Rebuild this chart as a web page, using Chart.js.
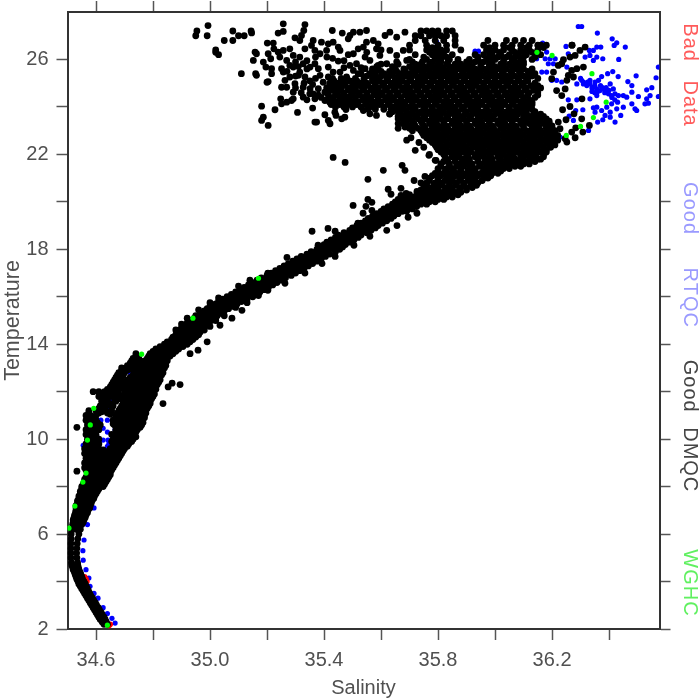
<!DOCTYPE html>
<html><head><meta charset="utf-8">
<script src="https://cdn.jsdelivr.net/npm/chart.js@4"></script>
<style>html,body{margin:0;padding:0;background:#fff}canvas{display:block}</style>
</head><body><canvas id="c" width="700" height="700"></canvas>
<script>
const xTicks=[34.6,34.8,35.0,35.2,35.4,35.6,35.8,36.0,36.2,36.4];
const xLabelled=[34.6,35.0,35.4,35.8,36.2];
const yTicks=[2,4,6,8,10,12,14,16,18,20,22,24,26];
const yLabelled=[2,6,10,14,18,22,26];
const xLimits=[34.5,36.577];
const yLimits=[2,28];
const xTitle="Salinity";
const yTitle="Temperature";
const sideLabels=["Bad Data","Good RTQC","Good DMQC","WGHC"];
// each row: temperature, then the salinities read at that temperature
const deepRows=[
[2.2,34.628,34.64],[2.3,34.622,34.636],[2.4,34.615,34.632],[2.5,34.61,34.628],[2.6,34.605,34.622],[2.7,34.6,34.618],[2.8,34.595,34.612],[2.9,34.59,34.608],[3,34.585,34.602],[3.1,34.58,34.598],[3.2,34.575,34.592],[3.3,34.57,34.588],[3.4,34.565,34.582],[3.5,34.56,34.578],[3.6,34.555,34.574],[3.7,34.55,34.57],[3.8,34.545,34.566],[3.9,34.54,34.562],[4,34.537,34.558],[4.1,34.533,34.553],[4.2,34.53,34.55],[4.3,34.527,34.547],[4.4,34.524,34.544],[4.5,34.52,34.54],[4.6,34.518,34.538],[4.7,34.515,34.536],[4.8,34.514,34.535],[5,34.512,34.533],[5.2,34.512,34.532],[5.4,34.512,34.533],[5.6,34.512,34.534],[5.8,34.513,34.536],[6,34.513,34.54],[6.2,34.515,34.53,34.545],[6.4,34.518,34.535,34.55],[6.5,34.52,34.54,34.555],[6.6,34.52,34.54,34.558],[6.7,34.523,34.542,34.562],[6.8,34.525,34.545,34.565],[6.9,34.528,34.55,34.57]];
const bendRows=[
[7,34.53,34.545,34.56,34.572],[7.1,34.53,34.55,34.565,34.578],[7.2,34.53,34.55,34.565,34.58],[7.3,34.535,34.55,34.57,34.583],[7.4,34.535,34.555,34.575,34.586],[7.5,34.54,34.558,34.578,34.592],[7.6,34.54,34.56,34.58,34.595],[7.7,34.545,34.562,34.582,34.6],[7.8,34.545,34.565,34.585,34.605],[7.9,34.55,34.568,34.59,34.61],[8,34.55,34.57,34.59,34.61,34.625],[8.1,34.555,34.575,34.595,34.615,34.63],[8.2,34.56,34.58,34.6,34.62,34.635],[8.3,34.56,34.58,34.6,34.62,34.64],[8.4,34.565,34.585,34.605,34.625,34.645],[8.5,34.57,34.59,34.61,34.63,34.65],[8.6,34.57,34.59,34.61,34.63,34.65],[8.7,34.565,34.585,34.605,34.625,34.645,34.655],[8.8,34.56,34.58,34.6,34.62,34.64,34.66],[8.9,34.565,34.59,34.61,34.63,34.65,34.665],[9,34.56,34.58,34.6,34.62,34.64,34.66,34.67],[9.1,34.57,34.59,34.615,34.635,34.655,34.675],[9.2,34.565,34.585,34.605,34.625,34.645,34.665,34.68],[9.3,34.57,34.59,34.61,34.63,34.655,34.675,34.685],[9.4,34.56,34.58,34.6,34.62,34.64,34.66,34.68,34.69],[9.5,34.57,34.595,34.615,34.655,34.675,34.695],[9.6,34.56,34.59,34.61,34.65,34.67,34.69,34.7],[9.7,34.57,34.6,34.66,34.68,34.7,34.71],[9.8,34.565,34.585,34.61,34.66,34.68,34.7,34.715],[9.9,34.575,34.6,34.67,34.69,34.71,34.725],[10,34.57,34.59,34.61,34.66,34.68,34.7,34.72,34.73],[10.1,34.58,34.6,34.665,34.685,34.705,34.725,34.74],[10.2,34.565,34.585,34.6,34.655,34.675,34.695,34.715,34.735],[10.3,34.575,34.595,34.68,34.7,34.72,34.74],[10.4,34.565,34.585,34.61,34.67,34.69,34.71,34.73,34.745],[10.5,34.575,34.6,34.675,34.695,34.715,34.735,34.755],[10.6,34.57,34.595,34.615,34.665,34.685,34.705,34.725,34.745,34.76],[10.7,34.58,34.605,34.67,34.69,34.71,34.73,34.75,34.765],[10.8,34.565,34.585,34.6,34.66,34.68,34.7,34.72,34.74,34.76],[10.9,34.575,34.595,34.675,34.695,34.715,34.735,34.755,34.77],[11,34.565,34.58,34.6,34.67,34.69,34.71,34.73,34.75,34.77],[11.1,34.575,34.61,34.675,34.695,34.715,34.735,34.755,34.775],[11.2,34.575,34.6,34.62,34.68,34.7,34.72,34.74,34.76,34.775],[11.3,34.61,34.63,34.685,34.705,34.725,34.745,34.765,34.78],[11.4,34.615,34.635,34.66,34.69,34.71,34.73,34.75,34.77,34.785],[11.5,34.625,34.65,34.7,34.72,34.74,34.76,34.78,34.79],[11.6,34.62,34.64,34.67,34.695,34.715,34.735,34.755,34.775,34.79],[11.7,34.62,34.64,34.665,34.68,34.7,34.72,34.74,34.76,34.78,34.795],[11.8,34.61,34.63,34.65,34.67,34.69,34.71,34.73,34.75,34.77,34.79,34.8],[11.9,34.62,34.64,34.66,34.68,34.71,34.73,34.75,34.77,34.79,34.805],[12,34.61,34.63,34.65,34.67,34.7,34.72,34.74,34.76,34.78,34.8],[12.1,34.64,34.66,34.68,34.7,34.72,34.74,34.76,34.78,34.8,34.81],[12.2,34.65,34.67,34.69,34.71,34.73,34.75,34.77,34.79,34.81],[12.3,34.655,34.675,34.695,34.715,34.735,34.755,34.775,34.795,34.815],[12.4,34.66,34.68,34.7,34.72,34.74,34.76,34.78,34.8,34.82],[12.5,34.665,34.685,34.71,34.73,34.75,34.77,34.79,34.81,34.825],[12.6,34.67,34.69,34.72,34.74,34.76,34.78,34.8,34.82],[12.7,34.675,34.695,34.73,34.75,34.77,34.79,34.81,34.83],[12.8,34.68,34.7,34.74,34.76,34.78,34.8,34.82,34.835],[12.9,34.69,34.71,34.73,34.75,34.77,34.79,34.81,34.83],[13,34.69,34.71,34.73,34.75,34.77,34.79,34.81,34.83,34.84],[13.1,34.71,34.73,34.75,34.77,34.79,34.81,34.83,34.845],[13.2,34.72,34.74,34.76,34.78,34.8,34.82,34.84],[13.3,34.725,34.745,34.77,34.79,34.81,34.83,34.85],[13.4,34.73,34.75,34.78,34.8,34.82,34.84,34.85],[13.5,34.74,34.785,34.805,34.825,34.845,34.86],[13.6,34.74,34.79,34.81,34.83,34.85,34.87],[13.7,34.8,34.82,34.84,34.86,34.88]];
const bandRows=[
[13.8,34.81,34.83,34.85,34.87,34.89],[13.9,34.825,34.845,34.865,34.885,34.905],[14,34.84,34.86,34.88,34.9,34.92],[14.1,34.85,34.87,34.89,34.91,34.93],[14.2,34.865,34.885,34.905,34.925,34.94],[14.3,34.87,34.89,34.91,34.93,34.95],[14.4,34.88,34.9,34.92,34.94,34.955],[14.5,34.885,34.905,34.925,34.945,34.965],[14.6,34.895,34.915,34.935,34.955,34.97],[14.7,34.9,34.92,34.94,34.96,34.98],[14.8,34.91,34.93,34.95,34.97,34.985],[14.9,34.92,34.94,34.96,34.98,34.995],[15,34.93,34.95,34.97,34.99,35.005],[15.1,34.945,34.965,34.985,35.005,35.02],[15.2,34.95,34.97,34.99,35.01,35.025],[15.3,34.965,34.985,35.005,35.025,35.04],[15.4,34.98,35,35.02,35.04,35.05],[15.5,34.99,35.01,35.03,35.05,35.065],[15.6,35,35.02,35.04,35.06,35.08],[15.7,35.02,35.04,35.06,35.08,35.095],[15.8,35.03,35.05,35.07,35.09,35.11],[15.9,35.045,35.065,35.085,35.105,35.13],[16,35.06,35.08,35.1,35.12,35.15],[16.1,35.075,35.095,35.115,35.135,35.16],[16.2,35.09,35.11,35.13,35.15,35.175],[16.3,35.105,35.125,35.145,35.165,35.19],[16.4,35.12,35.14,35.16,35.18,35.205],[16.5,35.135,35.155,35.175,35.195,35.22],[16.6,35.15,35.17,35.19,35.21,35.235],[16.7,35.165,35.185,35.205,35.225,35.25],[16.8,35.18,35.2,35.22,35.24,35.265],[16.9,35.2,35.22,35.24,35.26,35.285],[17,35.215,35.235,35.255,35.275,35.3],[17.1,35.23,35.25,35.27,35.29,35.315],[17.2,35.245,35.265,35.285,35.305,35.33],[17.3,35.26,35.28,35.3,35.32,35.345],[17.4,35.275,35.295,35.315,35.335,35.36],[17.5,35.29,35.31,35.33,35.35,35.375],[17.6,35.305,35.325,35.345,35.365,35.39],[17.7,35.32,35.34,35.36,35.38,35.405],[17.8,35.34,35.36,35.38,35.4,35.42],[17.9,35.355,35.375,35.395,35.415,35.44],[18,35.375,35.395,35.415,35.435,35.455],[18.1,35.385,35.405,35.425,35.445,35.465],[18.2,35.4,35.42,35.44,35.46,35.475],[18.3,35.41,35.43,35.45,35.47,35.49],[18.4,35.425,35.445,35.465,35.485,35.505],[18.5,35.44,35.46,35.48,35.5,35.52],[18.6,35.45,35.47,35.49,35.51,35.53],[18.7,35.47,35.49,35.51,35.53,35.55],[18.8,35.49,35.51,35.53,35.55,35.565],[18.9,35.5,35.52,35.54,35.56,35.58],[19,35.515,35.535,35.555,35.575,35.59],[19.1,35.53,35.55,35.57,35.59,35.605],[19.2,35.545,35.565,35.585,35.605,35.62],[19.3,35.555,35.575,35.595,35.615,35.635],[19.4,35.57,35.59,35.61,35.63,35.645],[19.5,35.585,35.605,35.625,35.645,35.66],[19.6,35.6,35.62,35.64,35.66,35.675,35.69],[19.7,35.61,35.63,35.65,35.67,35.69,35.71],[19.8,35.625,35.645,35.665,35.685,35.705,35.725],[19.9,35.64,35.66,35.68,35.7,35.72,35.74,35.76],[20,35.65,35.67,35.69,35.71,35.73,35.75,35.77,35.79],[20.1,35.66,35.68,35.7,35.72,35.74,35.76,35.78,35.8,35.82]];
const shoulderRows=[
[20.2,35.68,35.71,35.74,35.76,35.79,35.81,35.83,35.85],[20.3,35.7,35.725,35.75,35.775,35.8,35.825,35.85,35.87],[20.4,35.73,35.76,35.79,35.81,35.84,35.86,35.88],[20.5,35.74,35.77,35.8,35.825,35.85,35.875,35.9],[20.6,35.75,35.78,35.8,35.83,35.85,35.88,35.9,35.92],[20.7,35.76,35.785,35.815,35.84,35.865,35.89,35.915,35.935],[20.8,35.76,35.79,35.81,35.84,35.86,35.89,35.92,35.94],[20.9,35.77,35.8,35.825,35.85,35.875,35.905,35.93,35.955],[21,35.77,35.8,35.83,35.85,35.88,35.91,35.93,35.96,35.975],[21.1,35.78,35.81,35.84,35.86,35.89,35.915,35.94,35.965,35.985],[21.2,35.79,35.82,35.84,35.87,35.9,35.92,35.95,35.97,35.99,36.01],[21.3,35.8,35.825,35.855,35.88,35.905,35.93,35.96,35.98,36,36.02],[21.4,35.8,35.83,35.85,35.88,35.91,35.93,35.96,35.99,36.01,36.03,36.05],[21.5,35.81,35.84,35.865,35.89,35.915,35.945,35.97,35.995,36.02,36.045,36.07,36.09],[21.6,35.81,35.84,35.87,35.9,35.92,35.95,35.98,36,36.03,36.06,36.08,36.1,36.12],[21.7,35.82,35.835,35.86,35.885,35.91,35.94,35.965,35.99,36.015,36.04,36.07,36.09,36.115,36.14],[21.8,35.83,35.86,35.89,35.91,35.94,35.97,35.99,36.02,36.05,36.07,36.1,36.13,36.15,36.16],[21.9,35.825,35.85,35.875,35.905,35.93,35.96,35.985,36.01,36.04,36.065,36.09,36.12,36.145,36.17],[22,35.82,35.85,35.87,35.9,35.93,35.95,35.98,36.01,36.03,36.06,36.09,36.11,36.14,36.17],[22.1,35.81,35.84,35.865,35.89,35.915,35.945,35.97,36,36.025,36.05,36.08,36.105,36.13,36.16,36.18],[22.2,35.8,35.83,35.86,35.88,35.91,35.94,35.96,35.99,36.02,36.04,36.07,36.1,36.12,36.15,36.18],[22.3,35.795,35.82,35.85,35.875,35.9,35.93,35.955,35.98,36.01,36.035,36.06,36.09,36.115,36.14,36.17,36.195],[22.4,35.79,35.81,35.84,35.87,35.89,35.92,35.95,35.97,36,36.03,36.05,36.08,36.11,36.13,36.16,36.19,36.21],[22.5,35.78,35.805,35.83,35.86,35.885,35.91,35.94,35.965,35.99,36.02,36.045,36.07,36.1,36.125,36.15,36.18,36.205],[22.6,35.77,35.8,35.82,35.85,35.88,35.9,35.93,35.96,35.98,36.01,36.04,36.06,36.09,36.12,36.14,36.17,36.2,36.22],[22.7,35.76,35.79,35.815,35.84,35.87,35.895,35.92,35.95,35.975,36,36.03,36.055,36.08,36.11,36.135,36.16,36.19,36.215],[22.8,35.75,35.78,35.81,35.83,35.86,35.89,35.91,35.94,35.97,35.99,36.02,36.05,36.07,36.1,36.13,36.15,36.18,36.2,36.22],[22.9,35.745,35.77,35.8,35.825,35.85,35.88,35.905,35.93,35.96,35.985,36.01,36.04,36.065,36.09,36.12,36.145,36.17,36.2],[23,35.71,35.74,35.76,35.79,35.82,35.84,35.87,35.9,35.92,35.95,35.98,36,36.03,36.06,36.08,36.11,36.14,36.16,36.19,36.21],[23.1,35.7,35.73,35.755,35.78,35.81,35.835,35.86,35.89,35.915,35.94,35.97,35.995,36.02,36.05,36.075,36.1,36.13,36.155,36.18,36.2],[23.2,35.7,35.72,35.75,35.78,35.8,35.83,35.86,35.88,35.91,35.94,35.96,35.99,36.02,36.04,36.07,36.1,36.13,36.15,36.18,36.2],[23.3,35.69,35.715,35.745,35.77,35.795,35.82,35.85,35.875,35.9,35.93,35.955,35.98,36.01,36.035,36.06,36.09,36.12,36.145,36.17,36.19]];
const cloudRows=[
[23.4,35.68,35.71,35.74,35.77,35.79,35.82,35.85,35.87,35.9,35.93,35.95,35.98,36.01,36.03,36.06,36.09,36.11,36.14,36.16,36.19],
[23.5,35.68,35.7,35.73,35.755,35.78,35.81,35.835,35.86,35.89,35.915,35.94,35.97,35.995,36.02,36.05,36.075,36.1,36.13,36.155,36.18],
[23.6,35.66,35.69,35.72,35.75,35.78,35.8,35.83,35.86,35.88,35.91,35.94,35.96,35.99,36.02,36.04,36.07,36.1,36.12,36.15,36.17],
[23.7,35.63,35.67,35.705,35.73,35.76,35.785,35.81,35.84,35.87,35.895,35.92,35.95,35.975,36,36.03,36.055,36.08,36.11,36.135,36.16],
[23.8,35.64,35.66,35.69,35.71,35.74,35.77,35.79,35.82,35.85,35.87,35.9,35.93,35.96,35.98,36.01,36.04,36.06,36.09,36.11,36.14],
[23.9,35.555,35.58,35.61,35.635,35.655,35.68,35.72,35.755,35.78,35.805,35.84,35.86,35.885,35.915,35.94,35.97,35.995,36.02,36.05,36.075,36.1,36.13],
[24,35.44,35.47,35.5,35.53,35.56,35.58,35.61,35.64,35.67,35.7,35.72,35.75,35.78,35.81,35.83,35.86,35.89,35.92,35.94,35.97,36,36.02,36.05,36.08,36.1,36.12],
[24.1,35.425,35.455,35.485,35.515,35.545,35.57,35.595,35.625,35.655,35.685,35.71,35.735,35.765,35.795,35.82,35.845,35.875,35.905,35.93,35.955,35.985,36.01,36.035,36.065,36.09,36.115,36.13],
[24.2,35.42,35.44,35.47,35.5,35.52,35.55,35.58,35.6,35.63,35.66,35.68,35.71,35.74,35.76,35.79,35.82,35.84,35.87,35.9,35.92,35.95,35.98,36,36.03,36.06,36.09,36.11,36.13],
[24.3,35.41,35.43,35.455,35.49,35.51,35.535,35.565,35.59,35.615,35.645,35.67,35.695,35.725,35.75,35.775,35.805,35.83,35.855,35.885,35.91,35.935,35.965,35.99,36.015,36.045,36.075,36.1,36.12],
[24.4,35.43,35.46,35.48,35.51,35.54,35.56,35.59,35.62,35.64,35.67,35.7,35.72,35.75,35.78,35.8,35.83,35.86,35.89,35.91,35.94,35.97,35.99,36.02,36.05,36.07,36.1,36.14],
[24.5,35.415,35.445,35.47,35.495,35.525,35.55,35.575,35.605,35.63,35.655,35.685,35.71,35.735,35.765,35.79,35.815,35.845,35.875,35.9,35.925,35.955,35.98,36.005,36.035,36.06,36.085,36.115,36.15],
[24.6,35.41,35.44,35.47,35.5,35.52,35.55,35.58,35.6,35.63,35.66,35.69,35.71,35.74,35.77,35.8,35.82,35.85,35.88,35.9,35.93,35.96,35.98,36.01,36.04,36.07,36.09,36.12,36.15],
[24.7,35.425,35.455,35.485,35.51,35.535,35.565,35.59,35.615,35.645,35.675,35.7,35.725,35.755,35.785,35.81,35.835,35.865,35.89,35.915,35.945,35.97,35.995,36.025,36.055,36.08,36.105,36.135],
[24.8,35.41,35.44,35.46,35.49,35.51,35.54,35.57,35.59,35.62,35.65,35.68,35.7,35.73,35.76,35.79,35.81,35.84,35.87,35.89,35.92,35.95,35.97,36,36.03,36.06,36.08,36.11,36.14,36.16],
[24.9,35.43,35.45,35.475,35.505,35.525,35.555,35.58,35.605,35.635,35.665,35.69,35.715,35.745,35.775,35.8,35.825,35.855,35.88,35.905,35.935,35.96,35.985,36.015,36.045,36.07,36.095,36.125,36.15],
[25,35.42,35.45,35.47,35.5,35.53,35.55,35.58,35.61,35.64,35.66,35.69,35.72,35.74,35.77,35.8,35.82,35.85,35.88,35.91,35.93,35.96,35.99,36.01,36.04,36.07,36.1,36.14],
[25.1,35.435,35.46,35.49,35.515,35.54,35.57,35.595,35.625,35.65,35.675,35.705,35.73,35.755,35.785,35.81,35.835,35.865,35.895,35.92,35.945,35.975,36,36.025,36.055,36.085,36.115],
[25.2,35.43,35.46,35.48,35.51,35.54,35.57,35.59,35.62,35.65,35.67,35.7,35.73,35.75,35.78,35.81,35.84,35.86,35.89,35.92,35.94,35.97,36,36.03,36.05,36.08,36.11,36.15],
[25.3,35.55,35.575,35.6,35.63,35.66,35.685,35.71,35.74,35.765,35.795,35.825,35.85,35.875,35.905,35.93,35.96,35.985,36.015,36.04,36.07,36.1,36.13],
[25.4,35.53,35.56,35.58,35.61,35.64,35.67,35.7,35.72,35.75,35.78,35.81,35.84,35.86,35.89,35.92,35.95,35.98,36,36.03,36.06,36.09,36.12,36.14],
[25.5,35.57,35.6,35.63,35.655,35.685,35.715,35.74,35.77,35.8,35.83,35.855,35.885,35.91,35.94,35.97,35.995,36.025,36.055,36.085,36.115],
[25.6,35.57,35.59,35.65,35.68,35.71,35.73,35.76,35.79,35.82,35.85,35.87,35.9,35.93,35.96,35.99,36.01,36.04,36.07,36.1,36.13],
[25.7,35.585,35.64,35.7,35.725,35.75,35.78,35.81,35.84,35.865,35.89,35.92,35.95,35.98,36,36.03,36.06,36.09],
[25.8,35.6,35.66,35.72,35.74,35.77,35.8,35.83,35.86,35.88,35.91,35.95,35.98,36.02,36.05,36.08,36.1],
[25.9,35.655,35.71,35.745,35.78,35.81,35.835,35.87,35.9,35.93,35.96,35.99,36.03,36.07,36.1],
[26,35.7,35.76,35.79,35.81,35.84,35.87,35.91,35.94,35.97,36,36.03,36.06,36.09,36.13],
[26.1,35.75,35.8,35.83,35.94,35.98,36.01,36.04,36.07,36.1,36.14],
[26.2,35.72,35.78,35.8,35.82,35.85,35.93,35.96,35.99,36.02,36.05,36.08,36.11,36.16],
[26.3,35.77,35.815,35.98,36.015,36.07,36.1,36.13],
[26.4,35.7,35.76,35.79,35.81,35.83,35.88,35.97,36,36.03,36.06,36.09,36.12,36.15],
[26.5,35.78,35.98,36.05,36.11,36.17],
[26.6,35.7,35.76,35.8,35.83,35.86,35.96,36,36.03,36.06,36.09,36.12,36.15,36.18,36.27],
[26.8,35.72,35.755,35.79,35.82,35.86,35.975,36.04,36.07,36.1,36.13],
[27,35.72,35.74,35.77,35.79,35.81,35.83,35.86],
[27.2,35.74,35.76,35.78,35.8,35.83,35.85]];
// [salinity, temperature]
const clumpPoints=[[35.146,27.12],[35.257,27.5],[35.239,27.11],[35.257,27.18],[35.333,27.47],[35.329,27.22],[35.321,27.01],[35.298,26.91],[35.315,26.8],[35.429,27.22],[35.464,27.11],[35.485,26.87],[35.503,27.15],[35.526,27.15],[35.549,27.22],[35.491,27.01],[35.201,26.69],[35.222,26.69],[35.224,26.45],[35.239,26.31],[35.257,26.38],[35.28,26.45],[35.333,26.45],[35.356,26.59],[35.362,26.8],[35.391,26.73],[35.415,26.66],[35.432,26.73],[35.45,26.52],[35.456,26.38],[35.368,26.38],[35.386,26.24],[35.409,26.38],[35.485,26.2],[35.503,26.24],[35.52,26.45],[35.538,26.52],[35.549,26.73],[35.573,26.8],[35.59,26.66],[35.614,27.01],[35.631,27.15],[35.655,26.94],[35.684,27.15],[35.158,26.31],[35.163,26.24],[35.204,26.24],[35.213,26.03],[35.245,26.1],[35.269,25.96],[35.292,26.17],[35.315,26.1],[35.327,25.82],[35.351,25.68],[35.368,25.82],[35.38,25.61],[35.415,25.68],[35.45,25.93],[35.491,25.75],[35.514,25.82],[35.544,26.1],[35.561,25.96],[35.584,26.45],[35.596,26.17],[35.631,26.38],[35.655,26.17],[35.678,26.38],[35.69,25.96],[35.62,25.82],[35.59,25.75],[35.544,25.61],[35.152,25.96],[35.187,25.89],[35.196,25.68],[35.216,25.61],[35.216,25.4],[35.251,25.61],[35.257,25.47],[35.292,25.68],[35.315,25.47],[35.28,25.26],[35.263,25.12],[35.31,25.33],[35.333,25.26],[35.386,25.33],[35.415,25.26],[35.432,25.47],[35.456,25.47],[35.479,25.26],[35.503,25.54],[35.52,25.4],[35.163,25.33],[35.204,25.07],[35.251,24.83],[35.269,24.83],[35.298,24.98],[35.327,24.83],[35.292,24.62],[35.351,24.77],[35.362,24.55],[35.397,25.04],[35.38,24.77],[35.403,24.62],[35.427,24.9],[35.248,24.34],[35.251,24.13],[35.286,24.27],[35.292,24.34],[35.269,24.2],[35.327,24.41],[35.368,24.34],[35.403,24.27],[35.432,24.34],[35.45,24.48],[35.479,24.41],[35.181,24.03],[35.228,23.88],[35.307,23.77],[35.36,23.95],[35.403,23.67],[35.438,23.78],[35.442,23.64],[35.477,23.89],[35.473,23.57],[35.462,23.5],[35.368,23.36],[35.374,23.36],[35.415,23.43],[35.421,23.29],[35.187,23.57],[35.181,23.43],[35.204,23.22],[35.538,23.85],[35.561,23.71],[35.584,23.64],[35.631,23.71],[35.66,23.5],[35.678,23.29],[35.684,23.15],[34.954,27.2],[34.95,27],[34.99,27],[35.08,27.2],[35.1,27],[35.12,27],[35.144,27.2],[35.05,26.8],[35.08,26.8],[35.02,26.4],[35.03,26.2],[35.02,26.3],[34.993,27.43],[35.11,25.4],[35.16,25.4],[35.2,25.04],[35.3,25.9],[35.34,25.95],[35.28,25.75],[35.31,25.7],[35.34,25.6],[35.27,25.5],[35.3,25.3],[35.35,25.1],[35.37,25.2],[35.33,25],[35.36,24.95],[35.3,24.8],[35.35,24.55],[35.38,24.5],[35.32,24.6],[35.34,24.3],[35.39,24.4],[35.41,24.8],[35.37,26.1],[35.41,26.1],[35.43,26.05],[35.47,25.95],[35.53,25.65],[35.47,25.65],[35.55,26.3],[35.6,26.4]];
const edgePoints=[[35.035,14.8],[35.077,15.1],[35.112,15.43],[35.203,16.27],[35.263,16.57],[35.333,17],[35.393,17.4],[35.439,17.7],[35.505,18.17],[35.561,18.55],[35.62,18.8],[35.656,19],[35.695,19.35],[35.726,19.52],[34.99,15.43],[35.046,15.77],[35.08,16.06],[35.203,17],[35.316,17.62],[35.379,18.17],[35.439,18.76],[35.519,19.1],[35.62,19.64],[34.645,9.5],[34.625,9.55],[34.655,9.6],[34.655,9.9],[34.66,10.65],[34.64,11.1],[34.65,11.05],[34.655,11.2],[34.62,11.15],[34.635,11.2],[34.65,11.45],[34.67,10.35],[35.705,22.7],[35.733,22.5],[35.72,22.17],[35.75,22.3],[35.77,22],[35.79,21.75],[35.74,20.8],[34.96,14.4],[34.98,14.6],[35,14.75],[35.02,15],[35.05,15.2],[35.09,15.55],[35.13,15.75],[35.17,16.05],[34.88,14.6],[34.9,14.85],[34.92,15.1],[34.96,15.45],[35,15.75],[35.03,15.95],[35.1,16.45],[35.14,16.7]];
const blackStrays=[[34.533,8.65],[34.533,10.5],[34.59,12],[34.835,11.5],[34.853,12.2],[34.867,12.36],[34.895,12.3],[34.93,13.6],[34.958,13.75],[34.99,14.1],[35.27,17.66],[35.358,18.76],[35.414,18.88],[35.432,21.87],[35.474,21.66],[35.608,21.33],[35.674,21.54],[35.684,21.33],[35.554,20.95],[35.625,20.53],[35.635,20.32],[35.67,20.57],[35.67,20.27],[35.688,20.36],[35.716,20.9],[35.726,20.44],[35.754,21.07],[35.768,21.96],[35.793,21.75],[35.502,19.85],[35.547,19.81],[35.554,20.1],[35.568,19.98],[35.537,19.52],[35.568,19.64],[36.316,26.52],[36.298,26.38],[36.281,26.17],[36.263,26.1],[36.24,25.99],[36.234,25.82],[36.222,25.75],[36.31,25.68],[36.287,25.61],[36.269,25.54],[36.257,25.33],[36.275,25.26],[36.252,25.12],[36.205,25.47],[36.199,25.19],[36.216,24.69],[36.246,24.76],[36.234,24.48],[36.305,24.34],[36.263,24.02],[36.237,23.88],[36.277,23.71],[36.249,23.46],[36.222,23.36],[36.304,23.5],[36.228,23.08],[36.283,23.12],[36.331,23.22],[36.269,22.94],[36.308,22.94],[36.281,22.7],[36.252,22.52],[36.246,22.66],[36.27,26.6],[36.16,26.6],[35.66,23.1],[35.69,22.6],[35.66,23.3]];
const bluePoints=[[34.667,2.25],[34.656,2.45],[34.64,2.65],[34.625,2.9],[34.607,3.3],[34.593,3.5],[34.579,3.8],[34.575,4.15],[34.565,4.5],[34.555,4.9],[34.554,5.3],[34.558,5.75],[34.57,6.4],[34.593,7.1],[34.656,11.6],[34.64,11.3],[34.617,10.8],[34.64,10.8],[34.625,10.46],[34.64,10.3],[34.575,10.8],[34.667,10.4],[34.603,10.1],[34.625,9.96],[34.642,9.96],[34.64,9.7],[34.645,9.8],[34.575,9.8],[34.555,9.74],[34.607,8.36],[34.72,12.8],[34.71,12.35],[34.77,13.07],[34.795,13.45],[34.66,12.06],[36.292,27.39],[36.304,27.39],[36.359,27.11],[36.411,26.87],[36.427,26.7],[36.418,26.59],[36.457,26.52],[36.434,26],[36.249,26.55],[36.167,26.69],[36.573,25.68],[36.565,25.23],[36.495,25.31],[36.48,24.9],[36.466,25.07],[36.432,25.28],[36.413,25.49],[36.395,25.4],[36.374,25.28],[36.345,26.38],[36.331,26.38],[36.357,26.52],[36.371,26.52],[36.333,26.17],[36.357,26.1],[36.378,26.03],[36.345,25.96],[36.316,26.1],[36.257,26.24],[36.181,26.31],[36.176,26.03],[36.193,26.03],[36.211,26.03],[36.187,25.82],[36.205,25.82],[36.146,26.03],[36.123,25.4],[36.164,25.47],[36.181,25.47],[36.199,25.12],[36.216,25.12],[36.234,25.05],[36.252,25.68],[36.287,24.97],[36.304,25.12],[36.31,24.97],[36.322,24.9],[36.333,24.97],[36.345,24.83],[36.357,24.76],[36.368,24.69],[36.38,24.76],[36.392,24.62],[36.404,24.97],[36.415,24.76],[36.333,25.12],[36.351,25.05],[36.363,25.12],[36.377,24.81],[36.39,24.81],[36.398,24.55],[36.409,24.48],[36.421,24.55],[36.433,24.48],[36.45,24.48],[36.462,24.41],[36.48,24.62],[36.503,24.44],[36.532,24.72],[36.55,24.81],[36.544,24.48],[36.532,24.34],[36.538,24.16],[36.526,24.13],[36.573,24.44],[36.491,23.92],[36.497,23.85],[36.48,24.13],[36.45,23.99],[36.427,23.92],[36.409,24.13],[36.392,23.99],[36.374,23.85],[36.357,23.99],[36.345,23.96],[36.351,23.78],[36.333,24.34],[36.357,24.48],[36.404,23.78],[36.404,23.57],[36.386,23.64],[36.378,23.46],[36.36,23.36],[36.441,23.64],[36.421,23.36],[36.308,23.88],[36.287,24.3],[36.257,24.3],[36.263,23.99],[36.26,23.61],[36.275,23.43],[36.283,23.85],[36.328,23.01],[36.193,22.94],[36.228,22.73],[36.023,25.47],[35.947,25.4],[35.942,26.35],[35.93,26.35],[35.898,25.68],[35.795,26.73],[36.34,24.8],[36.35,24.9],[36.36,24.65],[36.37,24.9],[36.385,24.6],[36.4,24.7],[36.34,24.65],[36.325,25.05],[36.31,25.05],[36.3,25.2],[36.35,24.6],[36.41,24.4],[36.42,24.3],[36.43,24.2]];
const greenPoints=[[34.554,8.19],[34.592,11.3],[34.76,13.58],[34.58,10.6],[34.57,9.96],[34.565,8.57],[34.94,15.1],[35.17,16.78],[34.526,7.18],[34.505,6.25],[34.64,2.16],[36.147,26.3],[36.2,26.17],[36.34,25.4],[36.39,24.2],[36.345,23.55],[36.3,23.18],[36.25,22.8]];
const redPoints=[[34.56,4.2],[34.565,4.1],[34.568,4],[34.65,2.2],[34.646,2.15]];

const toXY=p=>({x:p[0],y:p[1]});
const blackXY=[];
[deepRows,bendRows,bandRows,shoulderRows,cloudRows].forEach(rows=>rows.forEach(r=>r.slice(1).forEach(s=>blackXY.push({x:s,y:r[0]}))));
[clumpPoints,edgePoints,blackStrays].forEach(list=>list.forEach(p=>blackXY.push(toXY(p))));

const font={family:'"Liberation Sans",sans-serif',size:20};
const ink='#505050', axisInk='#333333';
const fixedBox={x:71,xt:12,y:67.5,yr:40.5};
const sidePlugin={id:'side',afterDraw(ch){
  const c=ch.ctx;const cols=['#ff5a5a','#9a9aff','#454545','#60f060'];const ctr=[75,255,426,583];const gaps=['12px','26px','8px','0px'];
  c.save();c.font='20px "Liberation Sans",sans-serif';c.textAlign='center';c.textBaseline='middle';c.letterSpacing='1px';
  sideLabels.forEach((t,i)=>{c.save();c.wordSpacing=gaps[i];c.translate(690,ctr[i]);c.rotate(Math.PI/2);c.fillStyle=cols[i];c.fillText(t,0,0);c.restore();});
  c.restore();}};
const tickGrid={drawOnChartArea:false,drawTicks:true,tickLength:11,tickColor:'#555',tickWidth:1.5};
const border={color:axisInk,width:2};
const zeroH=s=>{s.paddingLeft=0;s.paddingRight=0};
const zeroV=s=>{s.paddingTop=0;s.paddingBottom=0};
new Chart(document.getElementById('c'),{type:'scatter',
 data:{datasets:[
  {label:'WGHC',data:greenPoints.map(toXY),pointRadius:2.6,backgroundColor:'#00ff00',pointBorderWidth:0,order:0},
  {label:'Good DMQC',data:blackXY,pointRadius:3.4,backgroundColor:'#000',pointBorderWidth:0,order:1},
  {label:'Bad Data',data:redPoints.map(toXY),pointRadius:2.8,backgroundColor:'#ff0000',pointBorderWidth:0,order:3},
  {label:'Good RTQC',data:bluePoints.map(toXY),pointRadius:2.6,backgroundColor:'#0000ff',pointBorderWidth:0,order:4}]},
 options:{responsive:false,animation:false,devicePixelRatio:1,layout:{padding:0},
  plugins:{legend:{display:false},tooltip:{enabled:false},title:{display:false}},
  scales:{
   x:{type:'linear',position:'bottom',min:xLimits[0],max:xLimits[1],grid:tickGrid,border,
     afterBuildTicks:s=>{s.ticks=xTicks.map(v=>({value:v}))},
     afterFit:s=>{s.height=fixedBox.x;zeroH(s)},
     ticks:{autoSkip:false,maxRotation:0,padding:8,color:ink,font,callback:v=>xLabelled.some(l=>Math.abs(l-v)<1e-6)?v.toFixed(1):''},
     title:{display:true,text:xTitle,color:ink,font:{family:font.family,size:20},padding:0}},
   xTop:{type:'linear',position:'top',min:xLimits[0],max:xLimits[1],grid:tickGrid,border,
     afterBuildTicks:s=>{s.ticks=xTicks.map(v=>({value:v}))},
     afterFit:s=>{s.height=fixedBox.xt;zeroH(s)},ticks:{display:false}},
   y:{type:'linear',position:'left',min:yLimits[0],max:yLimits[1],grid:tickGrid,border,
     afterBuildTicks:s=>{s.ticks=yTicks.map(v=>({value:v}))},
     afterFit:s=>{s.width=fixedBox.y;zeroV(s)},
     ticks:{autoSkip:false,padding:8,color:ink,font,callback:v=>yLabelled.includes(v)?String(v):''},
     title:{display:true,text:yTitle,color:ink,font:{family:font.family,size:21.5},padding:0}},
   yRight:{type:'linear',position:'right',min:yLimits[0],max:yLimits[1],grid:tickGrid,border,
     afterBuildTicks:s=>{s.ticks=yTicks.map(v=>({value:v}))},
     afterFit:s=>{s.width=fixedBox.yr;zeroV(s)},ticks:{display:false}}
  }},
 plugins:[sidePlugin]});
</script></body></html>
